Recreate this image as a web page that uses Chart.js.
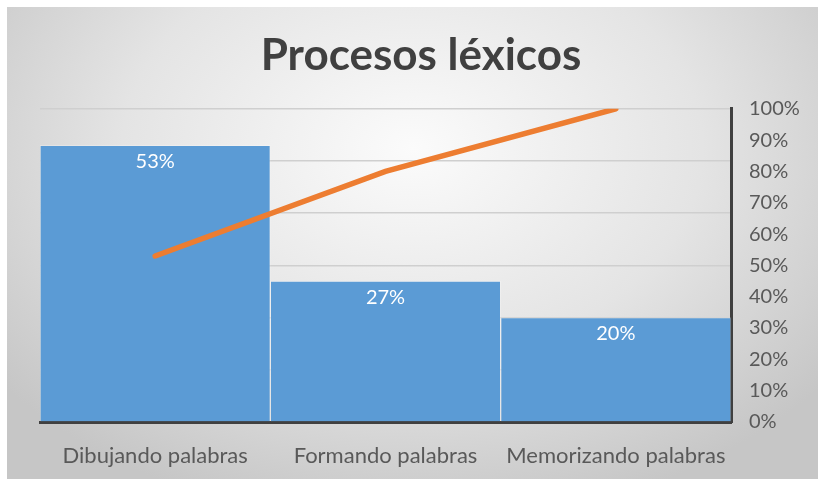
<!DOCTYPE html>
<html lang="es">
<head>
<meta charset="UTF-8">
<title>Procesos léxicos</title>
<script src="https://cdn.jsdelivr.net/npm/chart.js"></script>
<style>
  body { margin: 0; background: #fff; }
  #marco {
    position: absolute; left: 7px; top: 7px; width: 811px; height: 472px;
    background: radial-gradient(ellipse 65% 80% at 50% 30%, #fbfbfb 0%, #e4e4e4 55%, #c6c6c6 100%);
  }
</style>
</head>
<body>
<div id="marco"><canvas id="grafico"></canvas></div>
<script>
  const categorias = ['Dibujando palabras', 'Formando palabras', 'Memorizando palabras'];
  const porcentajes = [53, 27, 20];
  const acumulado = [53, 80, 100];

  const fuente = 'Lato, "Open Sans", sans-serif';

  const etiquetasBarras = {
    id: 'etiquetasBarras',
    afterDatasetsDraw(chart) {
      const meta = chart.getDatasetMeta(1);
      const ctx = chart.ctx;
      ctx.save();
      ctx.fillStyle = '#ffffff';
      ctx.font = '20px ' + fuente;
      ctx.textAlign = 'center';
      ctx.textBaseline = 'middle';
      meta.data.forEach((bar, i) => {
        ctx.fillText(porcentajes[i] + '%', bar.x, bar.y + 16);
      });
      ctx.restore();
    }
  };

  new Chart(document.getElementById('grafico'), {
    data: {
      labels: categorias,
      datasets: [
        { type: 'line', data: acumulado, yAxisID: 'y1', borderColor: '#ED7D31', borderWidth: 5.5,
          pointRadius: 0, tension: 0, order: 1, borderCapStyle: 'round' },
        { type: 'bar', data: porcentajes, yAxisID: 'y', backgroundColor: '#5B9BD5',
          borderColor: 'rgba(255,255,255,0.25)', borderWidth: 1,
          categoryPercentage: 1, barPercentage: 1, order: 2 }
      ]
    },
    options: {
      responsive: true,
      maintainAspectRatio: false,
      animation: false,
      layout: { padding: { left: 17, right: 0, top: 0, bottom: 0 } },
      plugins: {
        legend: { display: false },
        tooltip: { enabled: false },
        title: {
          display: true, text: 'Procesos léxicos', color: '#404040',
          font: { family: fuente, size: 44, weight: 'bold' },
          padding: { top: 22, bottom: 27 }
        }
      },
      scales: {
        x: {
          grid: { display: false, drawTicks: false },
          border: { color: '#404040', width: 3 },
          ticks: { color: '#595959', font: { family: fuente, size: 22 }, padding: 21 },
          afterFit(s) { s.height = 57; }
        },
        y: {
          position: 'left', min: 0, max: 60,
          ticks: { display: false, stepSize: 10 },
          grid: { color: '#cfcfcf', lineWidth: 1.5, drawTicks: false },
          border: { display: false },
          afterFit(s) { s.width = 16; }
        },
        y1: {
          position: 'right', min: 0, max: 100,
          ticks: { stepSize: 10, color: '#595959', font: { family: fuente, size: 20 }, padding: 18,
                   callback: v => v + '%' },
          grid: { drawOnChartArea: false, drawTicks: false },
          border: { color: '#404040', width: 3 },
          afterFit(s) { s.width = 87; }
        }
      }
    },
    plugins: [etiquetasBarras]
  });
</script>
</body>
</html>
